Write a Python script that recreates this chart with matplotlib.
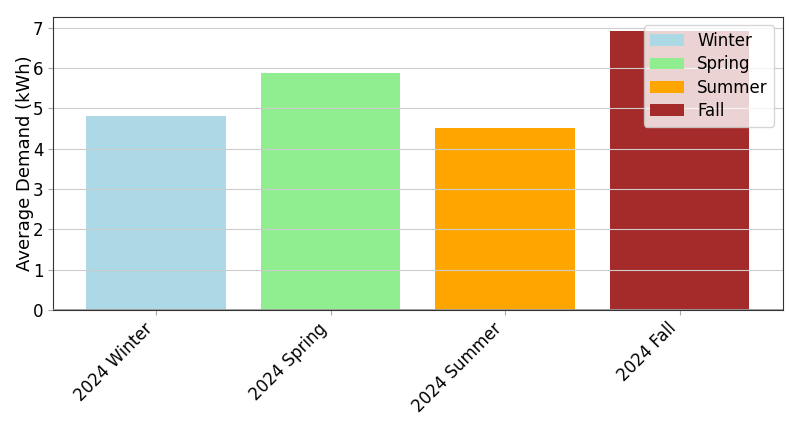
import matplotlib
matplotlib.use("Agg")
import matplotlib.pyplot as plt

# Average seasonal demand, 2024
seasons = ["Winter", "Spring", "Summer", "Fall"]
tick_labels = ["2024 Winter", "2024 Spring", "2024 Summer", "2024 Fall"]
demand = [4.82, 5.88, 4.52, 6.92]
colors = ["lightblue", "lightgreen", "orange", "brown"]

fig, ax = plt.subplots(figsize=(7.97, 4.25), dpi=100)
fig.subplots_adjust(left=0.0665, right=0.982, top=0.96, bottom=0.271)

x = range(len(seasons))
for i, (lab, val, col) in enumerate(zip(seasons, demand, colors)):
    ax.bar(i, val, color=col, label=lab, width=0.8)

# grey baseline at zero, drawn over the spine
ax.axhline(0, color="#999999", linewidth=2, zorder=3)

ax.set_xticks(list(x))
ax.set_xticklabels(tick_labels, rotation=45, ha="right", fontsize=12)
ax.tick_params(axis="y", labelsize=12, color="#aaaaaa")
ax.tick_params(axis="x", color="#aaaaaa")
ax.set_ylabel("Average Demand (kWh)", fontsize=13, labelpad=-1)
ax.grid(axis="y", color="#cccccc", linewidth=0.8)
for s in ax.spines.values():
    s.set_color("#333333")
ax.legend(loc="upper right", fontsize=12, labelspacing=0.32)

plt.savefig("out.png", dpi=100)
plt.close()
